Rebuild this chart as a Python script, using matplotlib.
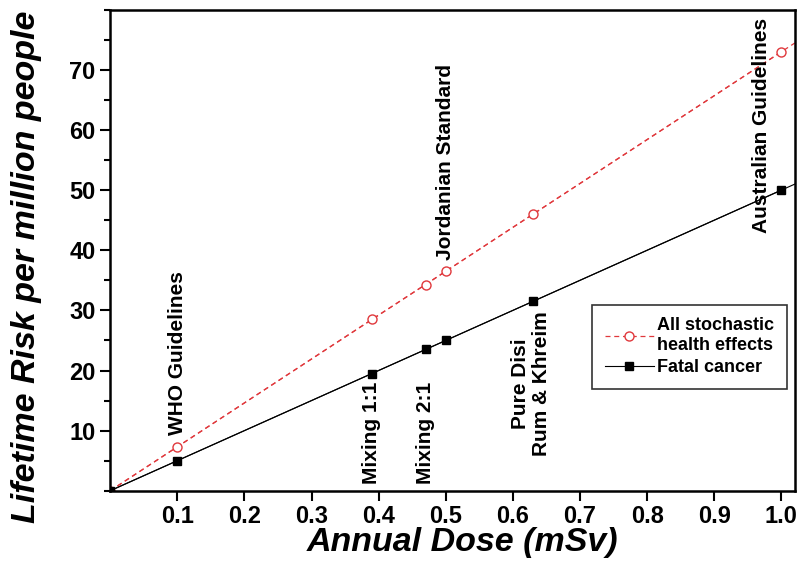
import numpy as np
import matplotlib.pyplot as plt
from matplotlib.ticker import MultipleLocator

plt.rcParams['font.family'] = ['Liberation Sans', 'DejaVu Sans']
plt.rcParams['font.weight'] = 'bold'

dose = [0.0, 0.1, 0.39, 0.47, 0.5, 0.63, 1.0]
stochastic = [0.0, 7.3, 28.5, 34.3, 36.5, 46.0, 73.0]
fatal = [0.0, 5.0, 19.5, 23.5, 25.0, 31.5, 50.0]

notes = ['WHO Guidelines', 'Mixing 1:1', 'Mixing 2:1', 'Jordanian Standard',
         'Pure Disi\nRum & Khreim', 'Australian Guidelines']
note_x = [0.1, 0.39, 0.47, 0.5, 0.627, 0.97]
note_y = [9.2, 1.2, 1.2, 38.3, 17.8, 42.8]
note_va = ['bottom', 'bottom', 'bottom', 'bottom', 'center', 'bottom']

fig = plt.figure(figsize=(7.98, 5.72), dpi=100)
ax = fig.add_axes([0.138, 0.142, 0.858, 0.841])

xmax = 1.02
xe = np.array([0.0, xmax])
k1 = np.polyfit(dose, stochastic, 1)
k2 = np.polyfit(dose, fatal, 1)
red = '#e0383c'
ax.plot(xe, np.polyval(k1, xe), color=red, linestyle=(0, (4, 3)), linewidth=0.9)
ax.plot(xe, np.polyval(k2, xe), color='black', linewidth=0.8)
ax.plot(dose, stochastic, color=red, linestyle=(0, (4, 3)), linewidth=0.9,
        marker='o', markersize=6.5, markerfacecolor='white', markeredgecolor=red,
        label='All stochastic\nhealth effects')
ax.plot(dose, fatal, color='black', linewidth=0.8, marker='s', markersize=6,
        label='Fatal cancer')

for t, x, y, va in zip(notes, note_x, note_y, note_va):
    ax.text(x, y, t, rotation=90, ha='center', va=va, fontsize=15,
            fontweight='bold', multialignment='center', linespacing=1.15)

ax.set_xlim(0, xmax)
ax.set_ylim(0, 80)
ax.set_xticks([0.1, 0.2, 0.3, 0.4, 0.5, 0.6, 0.7, 0.8, 0.9, 1.0])
ax.set_yticks([10, 20, 30, 40, 50, 60, 70])
ax.yaxis.set_minor_locator(MultipleLocator(5))
ax.tick_params(axis='both', which='major', labelsize=17, width=1.5, length=7, direction='out')
ax.tick_params(axis='y', which='minor', width=1.5, length=4, direction='out')
for s in ax.spines.values():
    s.set_linewidth(1.8)

ax.set_xlabel('Annual Dose (mSv)', fontsize=24.5, fontweight='bold', style='italic')
ax.xaxis.set_label_coords(0.514, -0.075)
ax.set_ylabel('Lifetime Risk per million people', fontsize=24.5, fontweight='bold',
              style='italic')
ax.yaxis.set_label_coords(-0.099, 0.465)

leg = ax.legend(loc='upper left', bbox_to_anchor=(0.704, 0.387), borderaxespad=0,
                fontsize=13, frameon=True, fancybox=False, edgecolor='black',
                handlelength=2.7, borderpad=0.7, labelspacing=0.3, handletextpad=0.2)
leg.get_frame().set_linewidth(1.2)

fig.savefig('out.png', dpi=100)
